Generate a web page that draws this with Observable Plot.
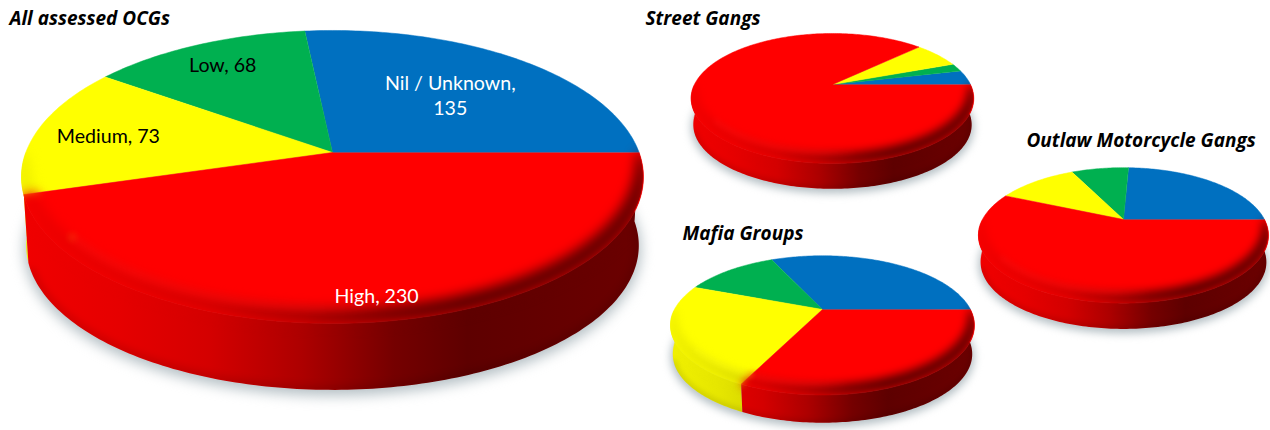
<!DOCTYPE html>
<html>
<head>
<meta charset="utf-8">
<script src="https://cdn.jsdelivr.net/npm/d3@7"></script>
<script src="https://cdn.jsdelivr.net/npm/@observablehq/plot@0.6"></script>
<style>
  html, body { margin: 0; padding: 0; background: #fff; }
  svg { display: block; }
</style>
</head>
<body>
<div id="chart"></div>
<script>
// Threat levels of organised crime groups, in drawing order (counter-clockwise from 3 o'clock).
const categories = ["Nil / Unknown", "Low", "Medium", "High"];
const sliceColors = ["#0070c0", "#00b050", "#ffff00", "#ff0000"];

const allOcgValues = [135, 68, 73, 230];
const streetGangShares = [3.7, 2.0, 6.5, 87.8];
const mafiaShares = [31.8, 12.3, 23.7, 32.2];
const outlawShares = [24.3, 8.0, 11.1, 56.6];

const pies = [
  {title: "All assessed OCGs", values: allOcgValues, cx: 332, cy: 152, sx: 306.6, sy: 142.4, k: 0.167, depth: 69, bevel: 13,
   titleX: 9, titleY: 18},
  {title: "Street Gangs", values: streetGangShares, cx: 832, cy: 84, sx: 138, sy: 62, k: 0.215, depth: 26.5, bevel: 9,
   titleX: 645, titleY: 18},
  {title: "Mafia Groups", values: mafiaShares, cx: 822, cy: 309, sx: 148, sy: 66, k: 0.228, depth: 29, bevel: 9,
   titleX: 682, titleY: 233},
  {title: "Outlaw Motorcycle Gangs", values: outlawShares, cx: 1123, cy: 219, sx: 141, sy: 64, k: 0.235, depth: 27, bevel: 9,
   titleX: 1026, titleY: 140}
];

// Radial placement of the slice labels on the large pie, and their text colours.
const labelRadii = [0.59, 0.8, 0.757, 0.866];
const labelNudge = [5, 1, 0, 0];
const labelInks = ["#ffffff", "#000000", "#000000", "#ffffff"];
const labelSeparators = [",\n", ", ", ", ", ", "];

const bottomScale = 0.985;
const wallStops = [[0, 0.94], [0.15, 0.9], [0.3, 0.83], [0.45, 0.68], [0.6, 0.46], [0.72, 0.37], [1, 0.42]];
const labelFont = "Lato, 'Open Sans', sans-serif";
const titleFont = "'Open Sans', Lato, sans-serif";

// Perspective view of a flat disc: the far edge shrinks, the near edge grows.
function project(pie, degrees, radius = 1, lower = false) {
  const a = degrees * Math.PI / 180;
  const u = radius * Math.cos(a), v = radius * Math.sin(a);
  const w = 1 + pie.k * v;
  const s = lower ? bottomScale : 1;
  return {
    x: pie.cx + pie.sx * s * u / w,
    y: pie.cy + (lower ? pie.depth : 0) - pie.sy * s * v / w
  };
}

const degreeRange = (a0, a1) => [...d3.range(a0, a1, 1), a1];

function sliceAngles(values) {
  const arcs = d3.pie().sort(null)(values);
  return arcs.map((d, i) => ({i, start: d.startAngle * 180 / Math.PI, end: d.endAngle * 180 / Math.PI}));
}

// Blur a mark; with a pie index the blur stays inside that pie's silhouette.
const blurred = (px, p) => (index, scales, values, dims, context, next) => {
  const g = next(index, scales, values, dims, context);
  g.style.filter = `blur(${px}px)`;
  if (p === undefined) return g;
  const wrap = document.createElementNS("http://www.w3.org/2000/svg", "g");
  wrap.setAttribute("clip-path", `url(#${outlineId(p)})`);
  wrap.append(g);
  return wrap;
};

const wallId = (p, i) => `wall-${p}-${i}`;
const glintId = (p, i) => `glint-${p}-${i}`;
const outlineId = (p) => `outline-${p}`;

// Horizontal shading for the side wall, the glint along the rounded edge, and each pie's silhouette.
function gradientDefs(index, {x, y}) {
  const defs = d3.create("svg:defs");
  pies.forEach((pie, p) => {
    const x1 = x(pie.cx - pie.sx), x2 = x(pie.cx + pie.sx);
    const outline = defs.append("clipPath").attr("id", outlineId(p));
    const circle = degreeRange(0, 360);
    const toPath = (points) => "M" + points.map((q) => `${x(q.x)},${y(q.y)}`).join("L") + "Z";
    outline.append("path").attr("d", toPath(circle.map((d) => project(pie, d))));
    outline.append("path").attr("d", toPath(circle.map((d) => project(pie, d, 1, true))));
    outline.append("path").attr("d", toPath([
      ...degreeRange(180, 360).map((d) => project(pie, d)),
      ...degreeRange(180, 360).reverse().map((d) => project(pie, d, 1, true))
    ]));
    sliceColors.forEach((color, i) => {
      const wall = defs.append("linearGradient").attr("id", wallId(p, i))
        .attr("gradientUnits", "userSpaceOnUse").attr("x1", x1).attr("x2", x2).attr("y1", 0).attr("y2", 0);
      for (const [offset, shade] of wallStops) {
        wall.append("stop").attr("offset", offset)
          .attr("stop-color", d3.interpolateRgb("#000", color)(shade));
      }
      const glint = defs.append("linearGradient").attr("id", glintId(p, i))
        .attr("gradientUnits", "userSpaceOnUse").attr("x1", x1).attr("x2", x2).attr("y1", 0).attr("y2", 0);
      const light = d3.interpolateRgb(color, "#fff")(0.12);
      glint.append("stop").attr("offset", 0.15).attr("stop-color", light).attr("stop-opacity", 0.25);
      glint.append("stop").attr("offset", 0.48).attr("stop-color", light).attr("stop-opacity", 0.22);
      glint.append("stop").attr("offset", 0.6).attr("stop-color", light).attr("stop-opacity", 0);
    });
  });
  return defs.node();
}

function pieMarks(pie, p) {
  const slices = sliceAngles(pie.values);
  const near = slices
    .map((s) => ({...s, a0: Math.max(s.start, 180), a1: Math.min(s.end, 360)}))
    .filter((s) => s.a1 > s.a0);

  // Inward reach of the rounded edge: nothing at the sides of the disc, widest nearest the viewer.
  const reach = pie.bevel * (1 - pie.k) / pie.sy;
  const inset = (d) => 1 - reach * Math.pow(Math.max(0, Math.sin((d - 180) * Math.PI / 180)), 0.5);

  const shadowPoints = degreeRange(0, 360).map((d) => {
    const q = project(pie, d, 1, true);
    return {x: q.x, y: q.y + pie.bevel * 0.28};
  });

  return [
    Plot.line(shadowPoints, {x: "x", y: "y", fill: "#b4bfc4", stroke: "#b4bfc4", strokeWidth: 4,
      render: blurred(pie.bevel * 0.5)}),
    ...near.map((s) => Plot.line([
      ...degreeRange(s.a0, s.a1).map((d) => project(pie, d)),
      ...degreeRange(s.a0, s.a1).reverse().map((d) => project(pie, d, 1, true))
    ], {x: "x", y: "y", fill: `url(#${wallId(p, s.i)})`, stroke: "none"})),
    // A soft darkening where the wall meets the ground.
    Plot.line(degreeRange(200, 360).map((d) => project(pie, d, 1, true)), {
      x: "x", y: "y", stroke: "#000", strokeOpacity: 0.1, strokeWidth: pie.bevel * 0.7, render: blurred(pie.bevel * 0.3, p)
    }),
    ...slices.map((s) => Plot.line([
      {x: pie.cx, y: pie.cy},
      ...degreeRange(s.start, s.end).map((d) => project(pie, d))
    ], {x: "x", y: "y", fill: sliceColors[s.i], stroke: sliceColors[s.i], strokeWidth: 0.5})),
    ...near.map((s) => Plot.line([
      ...degreeRange(s.a0, s.a1).map((d) => project(pie, d, 1.01)),
      ...degreeRange(s.a0, s.a1).reverse().map((d) => project(pie, d, inset(d)))
    ], {x: "x", y: "y", fill: `url(#${wallId(p, s.i)})`, stroke: "none", render: blurred(pie.bevel * 0.45, p)})),
    ...near.map((s) => Plot.line(degreeRange(Math.max(s.a0, 215), Math.max(s.a1, 215)).map((d) => project(pie, d, inset(d))), {
      x: "x", y: "y", stroke: `url(#${glintId(p, s.i)})`, strokeWidth: pie.bevel * 0.45, render: blurred(pie.bevel * 0.3, p)
    }))
  ];
}

function labelMarks(pie) {
  return sliceAngles(pie.values).map((s) => {
    const at = project(pie, (s.start + s.end) / 2, labelRadii[s.i]);
    const text = `${categories[s.i]}${labelSeparators[s.i]}${pie.values[s.i]}`;
    return Plot.text([{...at, text}], {
      x: "x", y: "y", text: "text", dx: labelNudge[s.i], fill: labelInks[s.i], fontSize: 19.6, fontFamily: labelFont,
      lineHeight: 1.28, textAnchor: "middle"
    });
  });
}

const chart = Plot.plot({
  width: 1270,
  height: 430,
  margin: 0,
  x: {domain: [0, 1270], axis: null},
  y: {domain: [430, 0], axis: null},
  marks: [
    gradientDefs,
    ...pies.flatMap(pieMarks),
    ...labelMarks(pies[0]),
    Plot.text(pies, {
      x: "titleX", y: "titleY", text: "title", textAnchor: "start", fill: "#000",
      fontFamily: titleFont, fontSize: 19, fontWeight: "bold", fontStyle: "italic"
    })
  ]
});
document.getElementById("chart").append(chart);
</script>
</body>
</html>
